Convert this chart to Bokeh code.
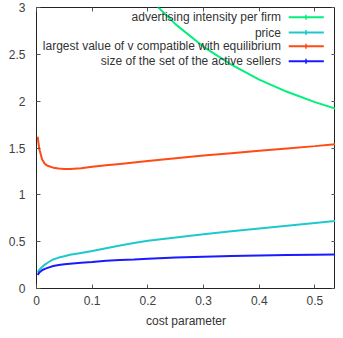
from bokeh.plotting import figure
from bokeh.models import LinearAxis, Range1d, FixedTicker
from bokeh.core.properties import value
from bokeh.embed import file_html
from bokeh.resources import INLINE

# ---- data ----
cost = [0.002, 0.005, 0.01, 0.015, 0.02, 0.03, 0.04, 0.05, 0.06, 0.08, 0.1,
        0.125, 0.15, 0.175, 0.2, 0.25, 0.3, 0.35, 0.4, 0.45, 0.5, 0.537]
largest_v = [1.62, 1.49, 1.38, 1.33, 1.31, 1.29, 1.28, 1.275, 1.275, 1.285, 1.30,
             1.315, 1.33, 1.345, 1.36, 1.39, 1.42, 1.445, 1.47, 1.495, 1.52, 1.54]
price = [0.17, 0.20, 0.23, 0.255, 0.275, 0.31, 0.33, 0.345, 0.36, 0.38, 0.40,
         0.43, 0.46, 0.485, 0.51, 0.545, 0.58, 0.61, 0.64, 0.67, 0.70, 0.72]
active_sellers = [0.145, 0.17, 0.195, 0.21, 0.22, 0.24, 0.25, 0.26, 0.265, 0.275, 0.283,
                  0.295, 0.303, 0.31, 0.318, 0.33, 0.34, 0.347, 0.353, 0.357, 0.36, 0.362]
adv_cost = [0.2, 0.219, 0.25, 0.3, 0.35, 0.4, 0.45, 0.5, 0.537]
advertising = [3.14, 3.0, 2.82, 2.58, 2.39, 2.23, 2.10, 1.99, 1.92]

labels = ["advertising intensity per firm", "price",
          "largest value of v compatible with equilibrium",
          "size of the set of the active sellers"]
colors = ["#00f07a", "#1ec8cc", "#ff4a14", "#1a1aff"]
x_ticks = [0, 0.1, 0.2, 0.3, 0.4, 0.5]
x_tick_labels = ["0", "0.1", "0.2", "0.3", "0.4", "0.5"]
y_ticks = [0, 0.5, 1, 1.5, 2, 2.5, 3]
y_tick_labels = ["0", "0.5", "1", "1.5", "2", "2.5", "3"]
x_label = "cost parameter"

FONT = "Liberation Sans"

p = figure(width=335, height=330, output_backend="svg", toolbar_location=None,
           x_range=Range1d(0, 0.537), y_range=Range1d(0, 3),
           min_border_left=36, min_border_right=0, min_border_top=7,
           min_border_bottom=40)
p.grid.visible = False
p.outline_line_color = "#222222"
p.outline_line_width = 1
p.background_fill_color = "white"
p.border_fill_color = "white"

series = [(adv_cost, advertising), (cost, price), (cost, largest_v), (cost, active_sellers)]
for (xs, ys), c in zip(series, colors):
    p.line(xs, ys, line_color=c, line_width=2)

# axes styling
def style_axis(ax, ticks, tick_labels, show_labels=True):
    ax.ticker = FixedTicker(ticks=ticks)
    ax.major_tick_in = 4
    ax.major_tick_out = 0
    ax.major_tick_line_color = "#555555"
    ax.minor_tick_line_color = None
    ax.axis_line_color = None
    if show_labels:
        ax.major_label_overrides = {t: l for t, l in zip(ticks, tick_labels)}
        ax.major_label_text_font = FONT
        ax.major_label_text_font_size = "12px"
        ax.major_label_text_color = "#404040"
    else:
        ax.major_label_text_color = None
        ax.major_label_text_font_size = "1px"
        ax.major_label_standoff = 0

style_axis(p.xaxis[0], x_ticks, x_tick_labels)
p.xaxis[0].major_label_standoff = 7
p.xaxis[0].axis_label = x_label
p.xaxis[0].axis_label_text_font = FONT
p.xaxis[0].axis_label_text_font_size = "12px"
p.xaxis[0].axis_label_text_font_style = "normal"
p.xaxis[0].axis_label_text_color = "#333333"
p.xaxis[0].axis_label_standoff = 6

style_axis(p.yaxis[0], y_ticks, y_tick_labels)
p.yaxis[0].major_label_standoff = 11

top_ax = LinearAxis()
style_axis(top_ax, x_ticks, x_tick_labels, show_labels=False)
p.add_layout(top_ax, "above")
right_ax = LinearAxis()
style_axis(right_ax, y_ticks, y_tick_labels, show_labels=False)
p.add_layout(right_ax, "right")

# gnuplot-style key: text right aligned, sample line on the right
key_text_x = 0.439
key_line_x0, key_line_x1, key_mark_x = 0.453, 0.516, 0.484
key_rows = [2.895, 2.733, 2.585, 2.426]
for lab, c, ky in zip(labels, colors, key_rows):
    p.text(x=[key_text_x], y=[ky], text=[lab], text_align="right",
           text_baseline="middle", text_font=value(FONT),
           text_font_size="12px", text_color="#333333")
    p.segment(x0=[key_line_x0], y0=[ky], x1=[key_line_x1], y1=[ky],
              line_color=c, line_width=2)
    p.scatter([key_mark_x], [ky], marker="dash", angle=1.5708, size=5,
              line_color=c, line_width=1.5)

open("out.html", "w").write(file_html(p, INLINE))
